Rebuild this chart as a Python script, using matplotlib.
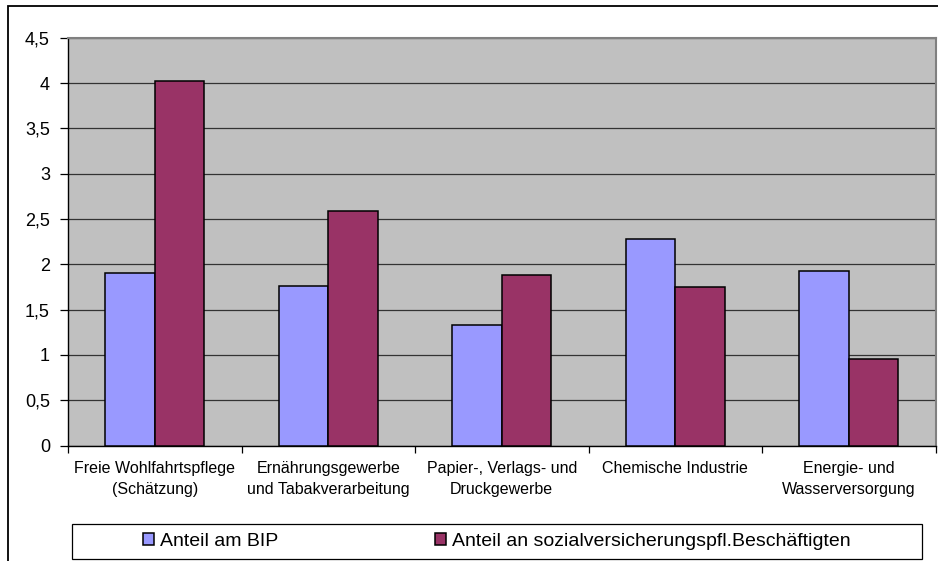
import matplotlib
matplotlib.use("Agg")
import matplotlib.pyplot as plt
from matplotlib.patches import Rectangle
from matplotlib.ticker import FuncFormatter, MultipleLocator
import numpy as np

plt.rcParams['font.family'] = ['Liberation Sans', 'DejaVu Sans']

# Branchen und Werte
branchen = ['Freie Wohlfahrtspflege\n(Schätzung)',
            'Ernährungsgewerbe\nund Tabakverarbeitung',
            'Papier-, Verlags- und\nDruckgewerbe',
            'Chemische Industrie',
            'Energie- und\nWasserversorgung']
anteil_bip = [1.90, 1.76, 1.33, 2.28, 1.93]
anteil_beschaeftigte = [4.02, 2.59, 1.88, 1.75, 0.95]
serien = ['Anteil am BIP', 'Anteil an sozialversicherungspfl.Beschäftigten']

W, H = 938, 561
fig = plt.figure(figsize=(W / 100, H / 100), dpi=100)
ax = fig.add_axes([68 / W, 1 - 445.5 / H, (935.6 - 68) / W, (445.5 - 37.7) / H])
ax.set_facecolor('#C0C0C0')

x = np.arange(len(branchen))
bw = 1 / 3.5
b1 = ax.bar(x - bw / 2, anteil_bip, bw, color='#9999FF', edgecolor='black', linewidth=1.1, zorder=3, label=serien[0])
b2 = ax.bar(x + bw / 2, anteil_beschaeftigte, bw, color='#993366', edgecolor='black', linewidth=1.1, zorder=3, label=serien[1])

ax.set_xlim(-0.5, len(branchen) - 0.5)
ax.set_ylim(0, 4.5)
ax.yaxis.set_major_locator(MultipleLocator(0.5))
ax.yaxis.set_major_formatter(FuncFormatter(lambda v, p: ('%g' % v).replace('.', ',')))
ax.grid(axis='y', color='#333333', linewidth=0.9, zorder=1)
ax.set_axisbelow(True)

ax.set_xticks(x)
ax.set_xticklabels(branchen, fontsize=11.5, linespacing=1.5)
ax.set_xticks(np.arange(-0.5, len(branchen)), minor=True)
ax.tick_params(axis='x', which='major', length=0, pad=11)
ax.tick_params(axis='x', which='minor', length=5, width=0.9, direction='out')
ax.tick_params(axis='y', length=6, width=0.9, pad=7, labelsize=13)

for s in ['left', 'bottom']:
    ax.spines[s].set_color('black')
    ax.spines[s].set_linewidth(1.0)
for s in ['top', 'right']:
    ax.spines[s].set_color('#808080')
    ax.spines[s].set_linewidth(1.5)

# Rahmen um das Diagramm
fig.patches.append(Rectangle((7.5 / W, -0.1), 1.1, 1.1 - 6 / H, transform=fig.transFigure,
                             fill=False, edgecolor='black', linewidth=1.3))
# Legendenrahmen
fig.patches.append(Rectangle((71.7 / W, 1 - 559 / H), (922 - 71.7) / W, 35 / H, transform=fig.transFigure,
                             fill=False, edgecolor='black', linewidth=0.9))
fig.legend(handles=[b1, b2], loc='center', bbox_to_anchor=((71.7 + 922) / 2 / W, 1 - 541.5 / H),
           ncol=2, frameon=False, fontsize=14, handlelength=0.56, handleheight=0.56,
           handletextpad=0.3, columnspacing=8.1, borderpad=0)

fig.savefig('out.png', dpi=100)
